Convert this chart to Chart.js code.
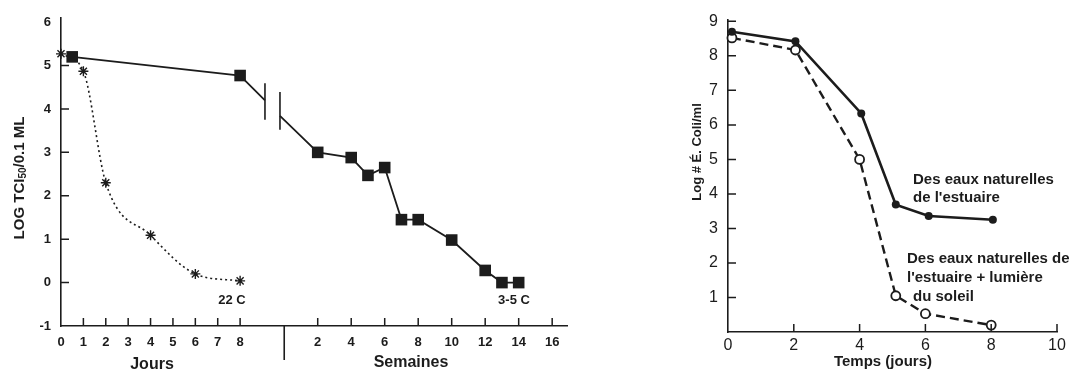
<!DOCTYPE html>
<html>
<head>
<meta charset="utf-8">
<script src="https://cdn.jsdelivr.net/npm/chart.js@4.4.1/dist/chart.umd.min.js"></script>
<style>
  html, body { margin: 0; padding: 0; background: #fff; }
  #wrap { position: relative; width: 1073px; height: 374px; overflow: hidden; }
  .panel { position: absolute; top: 0; height: 374px; }
  #left { left: 0; width: 580px; }
  #right { left: 660px; width: 413px; }
</style>
</head>
<body>
<div id="wrap">
  <div class="panel" id="left"><canvas id="leftChart"></canvas></div>
  <div class="panel" id="right"><canvas id="rightChart"></canvas></div>
</div>
<script>
// ---- left panel data (virus titre, days then weeks) ----
var dayTicks = [0, 1, 2, 3, 4, 5, 6, 7, 8];
var weekTicks = [2, 4, 6, 8, 10, 12, 14, 16];
var leftYTicks = [-1, 0, 1, 2, 3, 4, 5, 6];

var starDays = [0, 1, 2, 4, 6, 8];              // 22 C
var starLog = [5.27, 4.87, 2.3, 1.09, 0.2, 0.04];

var squareDays = [0.5, 8];                       // 3-5 C, first week in days
var squareDayLog = [5.2, 4.77];
var squareWeeks = [2, 4, 5, 6, 7, 8, 10, 12, 13, 14];
var squareWeekLog = [3.0, 2.88, 2.47, 2.65, 1.45, 1.45, 0.98, 0.28, 0, 0];

// axis break: line stops before the break and restarts after it (axis units)
var breakOut = [9.11, 4.2];
var breakIn = [9.78, 3.84];

// ---- right panel data (E. coli) ----
var timeDays = [0.12, 2.05, 4.05, 5.1, 6.1, 8.05];
var estuaryLog = [8.7, 8.42, 6.33, 3.69, 3.36, 3.25];
var timeDaysSun = [0.12, 2.05, 4.0, 5.1, 6.0, 8.0];
var sunLog = [8.52, 8.17, 5.0, 1.05, 0.53, 0.2];
var rightXTicks = [0, 2, 4, 6, 8, 10];
var rightYTicks = [1, 2, 3, 4, 5, 6, 7, 8, 9];

var INK = '#1c1c1c';
var FONT = '"Liberation Sans", Arial, Helvetica, sans-serif';

// weeks sit on the same linear axis after the break
var WEEK_ZERO = 9.97, WEEK_STEP = 0.748;
function weekPos(w) { return WEEK_ZERO + w * WEEK_STEP; }

var leftTickPos = dayTicks.concat(weekTicks.map(weekPos));
var leftTickLabels = dayTicks.concat(weekTicks).map(String);

function pairs(xs, ys) {
    return xs.map(function(x, i) { return {x: x, y: ys[i]}; });
}

var squareData = pairs(squareDays, squareDayLog)
    .concat([{x: breakOut[0], y: breakOut[1], brk: true},
             {x: (breakOut[0] + breakIn[0]) / 2, y: null},
             {x: breakIn[0], y: breakIn[1], brk: true}])
    .concat(pairs(squareWeeks.map(weekPos), squareWeekLog));

// small tick marks pointing into the plot
var innerTicks = {
    id: 'innerTicks',
    afterDatasetsDraw: function(chart, args, opts) {
        var ctx = chart.ctx, xs = chart.scales.x, ys = chart.scales.y;
        var a = chart.chartArea;
        ctx.save();
        ctx.strokeStyle = INK;
        ctx.lineWidth = 1.5;
        ctx.beginPath();
        (opts.x || []).forEach(function(v) {
            var px = xs.getPixelForValue(v);
            ctx.moveTo(px, a.bottom); ctx.lineTo(px, a.bottom - opts.len);
        });
        (opts.y || []).forEach(function(v) {
            var py = ys.getPixelForValue(v);
            ctx.moveTo(a.left, py); ctx.lineTo(a.left + opts.len, py);
        });
        ctx.stroke();
        ctx.restore();
    }
};

var leftDecor = {
    id: 'leftDecor',
    afterDraw: function(chart) {
        var ctx = chart.ctx, xs = chart.scales.x, ys = chart.scales.y;
        var a = chart.chartArea;
        ctx.save();
        ctx.strokeStyle = INK;
        ctx.fillStyle = INK;
        // break bars
        ctx.lineWidth = 1.6;
        ctx.beginPath();
        ctx.moveTo(xs.getPixelForValue(breakOut[0]), ys.getPixelForValue(4.59));
        ctx.lineTo(xs.getPixelForValue(breakOut[0]), ys.getPixelForValue(3.75));
        ctx.moveTo(xs.getPixelForValue(breakIn[0]), ys.getPixelForValue(4.39));
        ctx.lineTo(xs.getPixelForValue(breakIn[0]), ys.getPixelForValue(3.52));
        // separator between days and weeks under the axis
        var sx = xs.getPixelForValue(WEEK_ZERO);
        ctx.moveTo(sx, a.bottom); ctx.lineTo(sx, a.bottom + 34);
        ctx.stroke();

        ctx.textAlign = 'center';
        ctx.textBaseline = 'middle';
        ctx.font = 'bold 16px ' + FONT;
        ctx.fillText('Jours', 152, 365);
        ctx.fillText('Semaines', 411, 363);
        ctx.font = 'bold 13px ' + FONT;
        ctx.fillText('22 C', 232, 300);
        ctx.fillText('3-5 C', 514, 300);

        // y title with subscript
        ctx.translate(20, 178);
        ctx.rotate(-Math.PI / 2);
        var big = 'bold 15px ' + FONT, small = 'bold 10px ' + FONT;
        var parts = [['LOG TCI', big, 0], ['50', small, 3], ['/0.1 ML', big, 0]];
        var total = 0;
        parts.forEach(function(p) { ctx.font = p[1]; total += ctx.measureText(p[0]).width; });
        var x = -total / 2;
        ctx.textAlign = 'left';
        parts.forEach(function(p) {
            ctx.font = p[1];
            ctx.fillText(p[0], x, p[2]);
            x += ctx.measureText(p[0]).width;
        });
        ctx.restore();
    }
};

var rightDecor = {
    id: 'rightDecor',
    afterDraw: function(chart) {
        var ctx = chart.ctx;
        ctx.save();
        ctx.fillStyle = INK;
        ctx.textBaseline = 'middle';
        ctx.textAlign = 'center';
        ctx.font = 'bold 15px ' + FONT;
        ctx.fillText('Temps (jours)', 223, 362);
        ctx.textAlign = 'left';
        ctx.font = 'bold 15px ' + FONT;
        ctx.fillText('Des eaux naturelles', 253, 180);
        ctx.fillText("de l'estuaire", 253, 198);
        ctx.fillText('Des eaux naturelles de', 247, 259);
        ctx.fillText("l'estuaire + lumière", 247, 278);
        ctx.fillText('du soleil', 253, 297);
        ctx.translate(37, 152);
        ctx.rotate(-Math.PI / 2);
        ctx.textAlign = 'center';
        ctx.font = 'bold 13px ' + FONT;
        ctx.fillText('Log # É. Coli/ml', 0, 0);
        ctx.restore();
    }
};

function axisBase(font, pad) {
    return {
        type: 'linear',
        grid: { drawOnChartArea: false, drawTicks: false },
        border: { color: INK, width: 1.6 },
        ticks: { color: INK, font: font, padding: pad, autoSkip: false, maxRotation: 0 }
    };
}

var leftX = axisBase({family: FONT, size: 13, weight: 'bold'}, 9);
leftX.min = 0; leftX.max = 22.6;
leftX.afterFit = function(s) { s.height = 48; };
leftX.afterBuildTicks = function(s) { s.ticks = leftTickPos.map(function(v) { return {value: v}; }); };
leftX.ticks.callback = function(v, i) { return leftTickLabels[i]; };

var leftY = axisBase({family: FONT, size: 13, weight: 'bold'}, 10);
leftY.min = -1; leftY.max = 6.1;
leftY.afterFit = function(s) { s.width = 61; };
leftY.afterBuildTicks = function(s) { s.ticks = leftYTicks.map(function(v) { return {value: v}; }); };

new Chart(document.getElementById('leftChart'), {
    type: 'line',
    data: {
        datasets: [{
            data: pairs(starDays, starLog),
            borderColor: INK,
            borderWidth: 1.6,
            borderDash: [2, 3],
            cubicInterpolationMode: 'monotone',
            pointStyle: 'star',
            pointRadius: 5,
            pointBorderWidth: 1.4,
            pointBorderColor: INK,
            pointBackgroundColor: INK
        }, {
            data: squareData,
            borderColor: INK,
            borderWidth: 1.8,
            spanGaps: false,
            pointStyle: 'rect',
            pointRadius: function(c) { return c.raw && c.raw.brk ? 0 : 8.2; },
            pointBorderWidth: 0,
            pointBackgroundColor: INK
        }]
    },
    options: {
        responsive: true,
        maintainAspectRatio: false,
        animation: false,
        layout: { padding: { top: 13, right: 13, left: 0, bottom: 0 } },
        plugins: {
            legend: { display: false },
            tooltip: { enabled: false },
            innerTicks: {
                len: 8,
                x: dayTicks.slice(1).concat(weekTicks.map(weekPos)),
                y: [0, 1, 2, 3, 4, 5]
            }
        },
        scales: { x: leftX, y: leftY },
        clip: false
    },
    plugins: [innerTicks, leftDecor]
});

var rightX = axisBase({family: FONT, size: 16}, 4);
rightX.min = 0; rightX.max = 10;
rightX.afterFit = function(s) { s.height = 42; };
rightX.afterBuildTicks = function(s) { s.ticks = rightXTicks.map(function(v) { return {value: v}; }); };

var rightY = axisBase({family: FONT, size: 16}, 10);
rightY.min = 0; rightY.max = 9.05;
rightY.afterFit = function(s) { s.width = 68; };
rightY.afterBuildTicks = function(s) { s.ticks = rightYTicks.map(function(v) { return {value: v}; }); };

new Chart(document.getElementById('rightChart'), {
    type: 'line',
    data: {
        datasets: [{
            data: pairs(timeDays, estuaryLog),
            borderColor: INK,
            borderWidth: 2.6,
            pointRadius: 4,
            pointBorderWidth: 0,
            pointBackgroundColor: INK
        }, {
            data: pairs(timeDaysSun, sunLog),
            borderColor: INK,
            borderWidth: 2.4,
            borderDash: [9, 5],
            pointRadius: 4.5,
            pointBorderWidth: 1.8,
            pointBorderColor: INK,
            pointBackgroundColor: '#fff'
        }]
    },
    options: {
        responsive: true,
        maintainAspectRatio: false,
        animation: false,
        layout: { padding: { top: 13, right: 16, left: 0, bottom: 0 } },
        plugins: {
            legend: { display: false },
            tooltip: { enabled: false },
            innerTicks: { len: 8, x: [2, 4, 6, 8, 10], y: rightYTicks }
        },
        scales: { x: rightX, y: rightY },
        clip: false
    },
    plugins: [innerTicks, rightDecor]
});
</script>
</body>
</html>
